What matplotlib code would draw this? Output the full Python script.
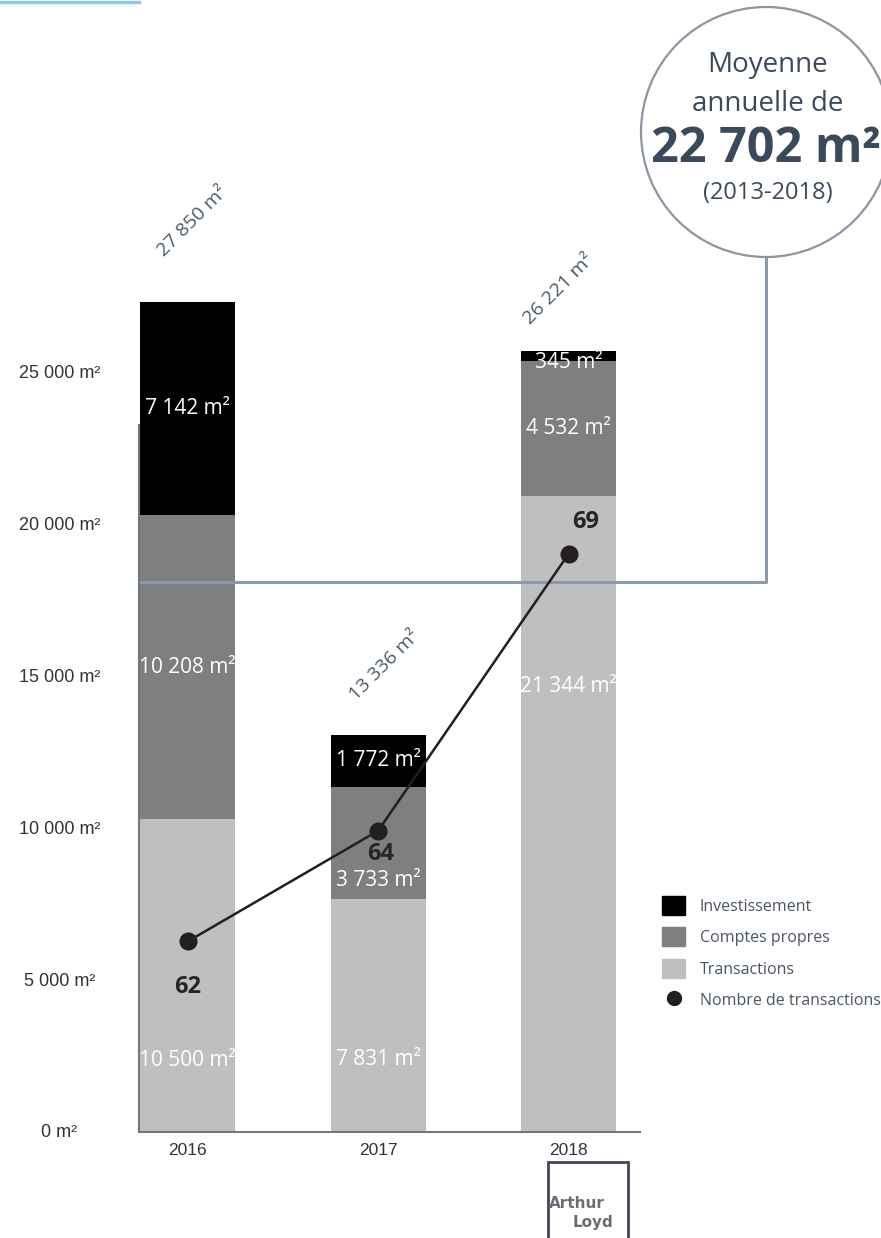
import matplotlib
matplotlib.use("Agg")
import matplotlib.pyplot as plt
from matplotlib.patches import Patch, Ellipse, Rectangle
from matplotlib.lines import Line2D

# surfaces (m²) per year and type
years = ["2016", "2017", "2018"]
transactions = [10500, 7831, 21344]
comptes_propres = [10208, 3733, 4532]
investissement = [7142, 1772, 345]
totals = [27850, 13336, 26221]
nb_transactions = [62, 64, 69]

y_ticks = [0, 5000, 10000, 15000, 20000, 25000]
y_ticklabels = ["0 m²", "5 000 m²", "10 000 m²", "15 000 m²", "20 000 m²", "25 000 m²"]

def fmt(v):
    return "{:,}".format(v).replace(",", " ") + " m²"

W, H = 881, 1238
fig = plt.figure(figsize=(W / 100, H / 100), dpi=100)

def fx(px):
    return px / W

def fy(py):
    return 1 - py / H

SLATE = "#6e7b87"
TEXT = "#3b4a5a"
C_INV, C_CP, C_TR = "#000000", "#7f7f7f", "#bfbfbf"

ax = fig.add_axes([fx(140), fy(1132), (W - 140) / W, (1132 - 200) / H])
ax.set_xlim(-0.25, -0.25 + (W - 140) / 190.5)
ax.set_ylim(0, (1132 - 200) / 0.0298)

x = list(range(len(years)))
bottom2 = [a + b for a, b in zip(transactions, comptes_propres)]
ax.bar(x, transactions, width=0.5, color=C_TR, zorder=1)
ax.bar(x, comptes_propres, width=0.5, bottom=transactions, color=C_CP, zorder=1)
ax.bar(x, investissement, width=0.5, bottom=bottom2, color=C_INV, zorder=1)

for s in ["top", "right"]:
    ax.spines[s].set_visible(False)
ax.spines["left"].set_color(SLATE)
ax.spines["left"].set_linewidth(1.5)
ax.spines["left"].set_bounds(0, (1132 - 425) / 0.0298)
ax.spines["left"].set_position(("outward", 1))
ax.spines["bottom"].set_color(SLATE)
ax.spines["bottom"].set_linewidth(1.5)
ax.spines["bottom"].set_bounds(-0.25, 2.375)

# y labels sit on a slightly stretched scale
ax.set_yticks([v * 1.02 + 34 for v in y_ticks])
ax.set_yticklabels(y_ticklabels, family="Liberation Sans", fontsize=13, color="#333333", ha="center")
ax.tick_params(axis="y", length=0, pad=57)
ax.set_xticks(x)
ax.set_xticklabels(years, family="Liberation Sans", fontsize=12.5, color="#333333")
ax.tick_params(axis="x", length=0, pad=8)

# segment labels (fraction of the segment height where the text sits)
frac = {(0, 0): 0.23, (1, 0): 0.31, (2, 0): 0.70, (1, 1): 0.16, (2, 2): -0.2}
for i in x:
    segs = [(0, transactions[i]), (transactions[i], comptes_propres[i]), (bottom2[i], investissement[i])]
    for k, (b, h) in enumerate(segs):
        f = frac.get((i, k), 0.5)
        ax.text(i, b + h * f, fmt(h), ha="center", va="center", color="white",
                family="Open Sans", fontsize=15, zorder=4)

# totals, written diagonally above each bar
total_offsets = [(4, 58), (5, 50), (-7, 44)]
for i in x:
    ax.annotate(fmt(totals[i]), (i, totals[i]), xytext=total_offsets[i], textcoords="offset points",
                ha="center", va="center", rotation=45, color="#4a5a6a",
                family="Open Sans", fontsize=14)

# connector from the chart to the average bubble
ax.add_line(Line2D([fx(140), fx(766), fx(766)], [fy(582), fy(582), fy(257)],
                   transform=fig.transFigure, color="#8a9aa8", lw=2.2, clip_on=False, zorder=2))
ax.add_patch(Ellipse((fx(766), fy(132)), 250 / W, 250 / H, transform=fig.transFigure,
                     facecolor="white", edgecolor="#8a96a2", lw=1.6, clip_on=False, zorder=2))
fig.text(fx(768), fy(65), "Moyenne", ha="center", va="center", color=TEXT, family="Open Sans", fontsize=20)
fig.text(fx(768), fy(104), "annuelle de", ha="center", va="center", color=TEXT, family="Open Sans", fontsize=20)
fig.text(fx(766), fy(150), "22 702 m²", ha="center", va="center", color=TEXT, family="Open Sans",
         fontsize=35, fontweight="bold")
fig.text(fx(768), fy(193), "(2013-2018)", ha="center", va="center", color=TEXT, family="Open Sans", fontsize=17)

# number of transactions on its own scale
ax2 = ax.twinx()
ax2.set_ylim(58.56, 58.56 + (1132 - 200) / 55.38)
ax2.axis("off")
ax2.plot(x, nb_transactions, color="#231f20", lw=1.8, marker="o", markersize=12, zorder=3)
offsets = [(0, -33), (2, -17), (12, 23)]
for i, n in enumerate(nb_transactions):
    ax2.annotate(str(n), (i, n), xytext=offsets[i], textcoords="offset points", ha="center", va="center",
                 color="#262626", family="Open Sans", fontsize=17, fontweight="bold")

handles = [Patch(color=C_INV), Patch(color=C_CP), Patch(color=C_TR),
           Line2D([], [], color="#231f20", marker="o", linestyle="none", markersize=10)]
labels = ["Investissement", "Comptes propres", "Transactions", "Nombre de transactions"]
fig.legend(handles, labels, loc="upper left", bbox_to_anchor=(fx(662), fy(896)), frameon=False,
           prop={"family": "Open Sans", "size": 11.5}, labelcolor="#4a5663",
           handlelength=1.45, handleheight=1.45, handletextpad=0.9, labelspacing=0.78,
           borderpad=0, borderaxespad=0)

# top accent and logo box
fig.add_artist(Line2D([0, fx(139)], [fy(1.5), fy(1.5)], color="#8ec8ea", lw=2.5))
fig.add_artist(Rectangle((fx(548), fy(1240)), 80 / W, 78 / H, fill=False, edgecolor="#3d4a56", lw=2))
fig.text(fx(577), fy(1203), "Arthur", ha="center", va="center", color="#6d6d6d", family="DejaVu Sans",
         fontsize=11, fontweight="bold")
fig.text(fx(593), fy(1223), "Loyd", ha="center", va="center", color="#6d6d6d", family="DejaVu Sans",
         fontsize=11, fontweight="bold")

fig.savefig("out.png", dpi=100)
